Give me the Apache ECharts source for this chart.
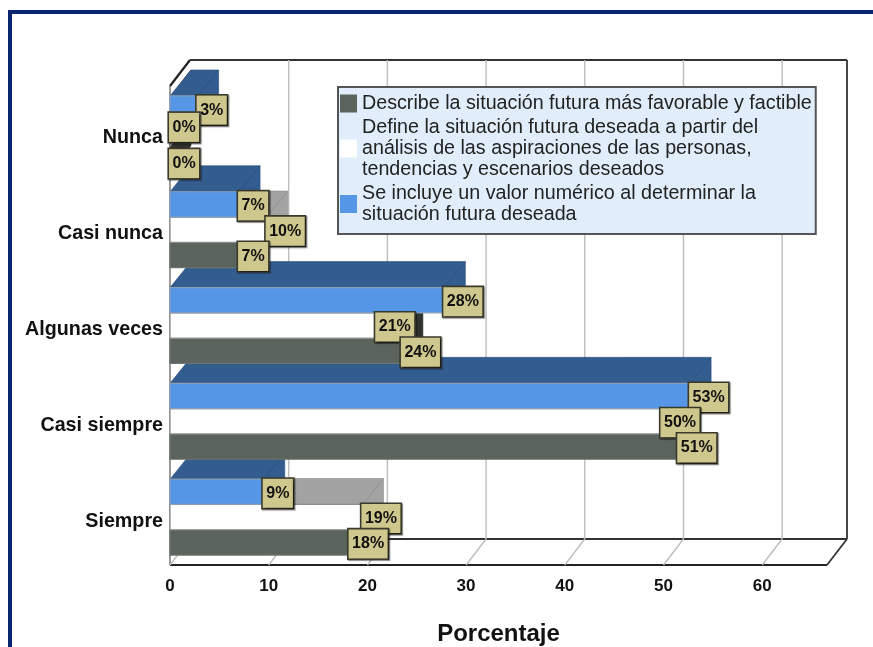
<!DOCTYPE html>
<html><head><meta charset="utf-8">
<style>html,body{margin:0;padding:0;background:#fff}#c{width:873px;height:647px}</style>
<script src="https://cdn.jsdelivr.net/npm/echarts@6/dist/echarts.min.js"></script>
</head><body><div id="c"></div>
<script>
const categories = ['Siempre', 'Casi siempre', 'Algunas veces', 'Casi nunca', 'Nunca'];
const xTicks = [0, 10, 20, 30, 40, 50, 60];
const seriesNames = [
  'Describe la situación futura más favorable y factible',
  'Define la situación futura deseada a partir del\nanálisis de las aspiraciones de las personas,\ntendencias y escenarios deseados',
  'Se incluye un valor numérico al determinar la\nsituación futura deseada'
];
const describeValues = [18.2, 51.5, 23.5, 7, 0];
const defineValues = [19.5, 49.8, 20.9, 9.8, 0];
const incluyeValues = [9.5, 52.7, 27.8, 7, 2.8];
const describeLabels = ['18%', '51%', '24%', '7%', '0%'];
const defineLabels = ['19%', '50%', '21%', '10%', '0%'];
const incluyeLabels = ['9%', '53%', '28%', '7%', '3%'];

const AXIS_MAX = 66.57, DX = 21, DY = 26, FONT = '"Liberation Sans", Arial, sans-serif';
// vertical nudge that keeps the zero-width bars' labels from colliding, per series
const ZERO_NUDGE = [3, -8, 0];
const styles = [
  {front: '#5a645c', depth: '#2e322f', line: '#6d736e', edge: '#3a3f3b'},
  {front: '#ffffff', depth: '#a3a3a3', line: '#8d8d8d', edge: '#8a8a8a'},
  {front: '#5596e6', depth: '#335c8f', line: '#8a9fb8', edge: '#2c507e'}
];

function barSeries(s, values, labels) {
  return {
    type: 'custom', name: seriesNames[s], coordinateSystem: 'cartesian2d', clip: false,
    itemStyle: {color: styles[s].front}, z: 3,
    encode: {x: 0, y: 1},
    data: values.map((v, i) => [v, i, labels[i]]),
    renderItem(params, api) {
      const v = api.value(0), c = api.value(1);
      const base = api.coord([0, c]), end = api.coord([v, c]);
      const band = api.size([0, 1])[1], h = band * 0.264;
      const yc = base[1] + (1 - s) * h;
      const y0 = yc - h / 2, y1 = yc + h / 2, x0 = base[0], x1 = end[0];
      const st = styles[s], z = 10 + c * 3 + s;
      const kids = [
        {type: 'polygon', z2: z, shape: {points: [[x0, y0], [x0 + DX, y0 - DY], [x1 + DX, y0 - DY], [x1 + DX, y1 - DY], [x1, y1], [x1, y0]]},
          style: {fill: st.depth, stroke: st.edge, lineWidth: 0.6}},
        {type: 'line', z2: z + 0.2, shape: {x1: x1, y1: y0, x2: x1 + DX, y2: y0 - DY}, style: {stroke: st.edge, lineWidth: 0.8}},
        {type: 'rect', z2: z + 0.5, shape: {x: x0, y: y0, width: x1 - x0, height: y1 - y0},
          style: {fill: st.front, stroke: st.line, lineWidth: 1.2}},
        {type: 'text', z2: 200 + c * 3 - s, x: x1 - 1, y: yc + 1.5 + (v === 0 ? ZERO_NUDGE[s] : 0),
          style: {text: api.value(2), x: 0, y: 0, align: 'left', verticalAlign: 'middle',
            font: 'bold 16px ' + FONT, fill: '#111', backgroundColor: '#cfc88e',
            borderColor: '#3a3a2c', borderWidth: 1.6, padding: [7, 3.5, 6, 3.5],
            shadowColor: 'rgba(0,0,0,0.45)', shadowBlur: 1, shadowOffsetX: 1, shadowOffsetY: 1}}
      ];
      return {type: 'group', children: kids};
    }
  };
}

const wallSeries = {
  type: 'custom', name: 'walls', coordinateSystem: 'cartesian2d', clip: false, silent: true, z: 1,
  encode: {x: 0},
  data: xTicks.map(t => [t]),
  renderItem(params, api) {
    const t = api.value(0), half = api.size([0, 1])[1] / 2;
    const p4 = api.coord([t, 4]), p0 = api.coord([t, 0]);
    const top = [p4[0], p4[1] - half], bot = [p0[0], p0[1] + half];
    const grid = {stroke: '#bdbdbd', lineWidth: 1.4};
    const kids = [];
    if (t !== 0) {
      kids.push(
        {type: 'line', shape: {x1: bot[0], y1: bot[1], x2: bot[0] + 20, y2: bot[1] - DY}, style: grid},
        {type: 'line', shape: {x1: top[0] + 20, y1: top[1] - DY, x2: bot[0] + 20, y2: bot[1] - DY}, style: grid}
      );
    } else {
      const r = api.coord([AXIS_MAX, 0])[0];
      const bk = {stroke: '#333', lineWidth: 1.8}, bk2 = {stroke: '#222', lineWidth: 2.2};
      kids.push(
        {type: 'line', shape: {x1: top[0], y1: top[1], x2: bot[0], y2: bot[1]}, style: {stroke: '#555', lineWidth: 1.2}},
        {type: 'line', shape: {x1: top[0], y1: top[1], x2: top[0] + 20, y2: top[1] - DY}, style: bk2},
        {type: 'line', z2: 60, shape: {x1: top[0] + 1, y1: top[1] + 10, x2: top[0] + 21, y2: top[1] - 16}, style: {stroke: '#222', lineWidth: 1}},
        {type: 'line', shape: {x1: top[0] + 20, y1: top[1] - DY, x2: r + 20, y2: top[1] - DY}, style: bk},
        {type: 'line', shape: {x1: r + 20, y1: top[1] - DY, x2: r + 20, y2: bot[1] - DY}, style: bk},
        {type: 'line', shape: {x1: bot[0] + 20, y1: bot[1] - DY, x2: r + 20, y2: bot[1] - DY}, style: bk},
        {type: 'line', shape: {x1: r + 20, y1: bot[1] - DY, x2: r, y2: bot[1]}, style: bk},
        {type: 'line', shape: {x1: bot[0], y1: bot[1], x2: r, y2: bot[1]}, style: bk2},
        {type: 'line', shape: {x1: bot[0], y1: bot[1], x2: bot[0] + 20, y2: bot[1] - DY}, style: {stroke: '#bdbdbd', lineWidth: 1.4}}
      );
    }
    return {type: 'group', children: kids};
  }
};

const chart = echarts.init(document.getElementById('c'), null, {renderer: 'canvas'});
chart.setOption({
  animation: false,
  backgroundColor: '#fff',
  grid: {left: 170, top: 86, width: 657, height: 479, containLabel: false, outerBoundsMode: 'none'},
  xAxis: {
    type: 'value', min: 0, max: AXIS_MAX, interval: 10,
    axisLine: {show: false}, axisTick: {show: false}, splitLine: {show: false},
    axisLabel: {showMaxLabel: false, margin: 13, color: '#111', fontFamily: FONT, fontWeight: 'bold', fontSize: 17},
    name: 'Porcentaje', nameLocation: 'middle', nameGap: 57,
    nameTextStyle: {color: '#111', fontFamily: FONT, fontWeight: 'bold', fontSize: 24}
  },
  yAxis: {
    type: 'category', data: categories,
    axisLine: {show: false}, axisTick: {show: false}, splitLine: {show: false},
    axisLabel: {margin: 7, color: '#111', fontFamily: FONT, fontWeight: 'bold', fontSize: 19.7, verticalAlign: 'top', lineHeight: 8}
  },
  legend: {
    left: 338, top: 87, orient: 'vertical', selectedMode: false, icon: 'rect',
    data: seriesNames, itemWidth: 17, itemHeight: 18, itemGap: 3,
    padding: [6, 4, 9, 2], backgroundColor: '#e1edfb', borderColor: '#555', borderWidth: 2,
    textStyle: {color: '#222', fontFamily: FONT, fontSize: 19.7, lineHeight: 21}
  },
  graphic: [{type: 'polyline', silent: true, z: 0,
    shape: {points: [[10, 647], [10, 12], [873, 12]]},
    style: {fill: 'none', stroke: '#0a2670', lineWidth: 4}}],
  series: [
    wallSeries,
    barSeries(0, describeValues, describeLabels),
    barSeries(1, defineValues, defineLabels),
    barSeries(2, incluyeValues, incluyeLabels)
  ]
});
</script></body></html>
